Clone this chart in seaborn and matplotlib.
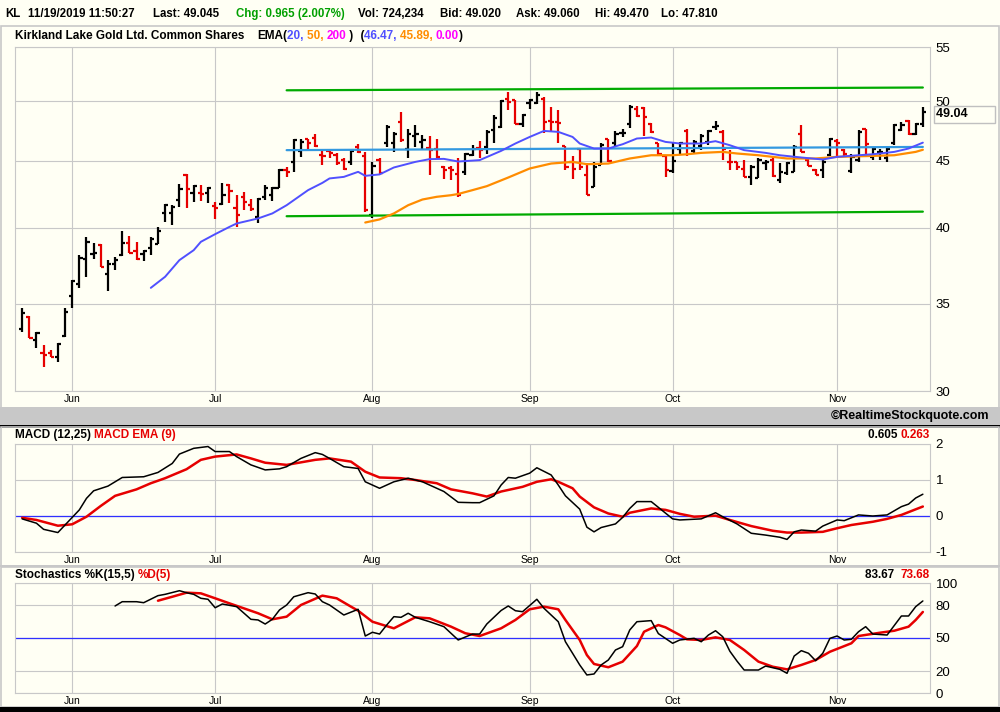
import matplotlib
matplotlib.use("Agg")
import numpy as np
import matplotlib.pyplot as plt
import seaborn as sns
from matplotlib.patches import Rectangle
from matplotlib.ticker import NullLocator

sns.set_theme(style="white", rc={"axes.edgecolor": "#C8C8C8", "text.color": "black",
                                 "xtick.color": "black", "ytick.color": "black"})
plt.rcParams['font.family'] = ['Liberation Sans', 'DejaVu Sans']

# ---- data (bar index 0 = May 22 2019, 126 = Nov 19 2019) ----
months = ['Jun', 'Jul', 'Aug', 'Sep', 'Oct', 'Nov']
month_idx = [7, 27, 49, 71, 91, 114]

opens = [33.45, 34.19, 32.82, 32.10, 32.10, 31.87, 33.06, 35.46, 36.20, 37.83,
         38.22, 38.80, 36.86, 37.52, 38.11, 38.91, 38.40, 38.20, 38.63, 38.86,
         41.02, 41.02, 42.04, 43.90, 42.49, 42.55, 42.49, 41.55, 41.70, 43.15,
         41.45, 42.23, 41.62, 40.77, 42.23, 42.36, 42.92, 44.32, 44.92, 45.80,
         46.73, 46.89, 45.50, 45.80, 45.45, 45.06, 44.92, 46.13, 45.40, 40.90,
         45.11, 46.40, 46.40, 48.20, 45.99, 47.05, 46.53, 46.00, 45.99, 44.48,
         44.43, 44.01, 44.14, 45.45, 46.00, 46.13, 47.50, 47.78, 50.22, 50.08,
         48.06, 49.85, 49.85, 50.22, 48.25, 48.20, 46.18, 44.92, 45.99, 43.88,
         42.99, 44.66, 46.73, 46.40, 47.25, 48.00, 49.35, 49.43, 48.06, 46.40,
         45.37, 44.22, 45.99, 47.40, 45.80, 46.20, 46.50, 47.75, 47.36, 44.95,
         44.92, 44.40, 43.75, 43.63, 44.80, 45.06, 43.50, 44.04, 44.14, 47.22,
         45.06, 44.32, 44.27, 45.45, 46.61, 45.91, 44.22, 45.06, 47.56, 45.32,
         45.70, 45.19, 46.40, 47.50, 48.28, 47.16, 48.06]
highs = [34.70, 34.25, 33.26, 32.54, 32.25, 32.63, 34.70, 36.47, 38.11, 39.37,
         38.96, 38.86, 37.78, 37.96, 39.76, 39.41, 39.02, 38.45, 39.37, 40.06,
         41.68, 41.62, 43.20, 44.01, 43.12, 43.12, 42.99, 41.87, 43.25, 43.20,
         42.36, 42.61, 42.11, 42.18, 43.12, 42.94, 44.40, 44.48, 46.73, 46.73,
         46.81, 47.22, 45.86, 45.99, 45.59, 45.19, 45.86, 46.34, 45.72, 44.92,
         45.19, 47.92, 47.36, 49.02, 47.64, 47.92, 47.08, 47.00, 46.73, 44.58,
         44.58, 45.19, 45.64, 46.26, 46.61, 47.50, 48.77, 50.14, 50.82, 50.14,
         48.91, 50.22, 50.82, 50.37, 49.49, 49.26, 46.18, 45.37, 45.99, 44.80,
         44.92, 46.40, 46.81, 47.44, 47.56, 49.64, 49.56, 49.49, 48.12, 46.45,
         45.45, 46.40, 46.53, 47.56, 46.70, 47.20, 47.50, 48.28, 47.50, 45.86,
         44.92, 45.06, 44.66, 45.19, 45.06, 45.32, 44.80, 44.92, 46.26, 47.92,
         45.19, 44.40, 45.06, 46.89, 46.73, 45.99, 45.53, 47.50, 47.64, 46.13,
         45.99, 46.13, 48.06, 48.20, 48.34, 48.12, 49.47]
lows = [33.30, 32.92, 32.35, 31.30, 31.83, 31.58, 33.02, 34.70, 35.98, 36.69,
        37.83, 37.30, 35.80, 37.12, 38.07, 38.23, 37.78, 37.73, 38.11, 38.86,
        40.38, 40.18, 41.50, 41.38, 41.87, 41.94, 41.75, 40.59, 41.62, 41.75,
        40.06, 41.26, 41.21, 40.35, 41.99, 41.94, 42.92, 43.75, 44.14, 45.27,
        45.99, 46.13, 44.66, 45.19, 44.66, 44.32, 44.66, 45.59, 41.13, 40.66,
        44.01, 46.13, 45.72, 46.53, 45.19, 46.13, 45.99, 43.88, 45.19, 43.55,
        43.50, 42.24, 43.88, 45.37, 45.19, 45.53, 46.40, 47.72, 49.20, 48.00,
        47.78, 49.35, 49.73, 47.28, 47.36, 46.40, 44.32, 43.55, 44.27, 42.36,
        42.94, 44.66, 44.92, 46.13, 46.94, 47.72, 48.63, 47.00, 47.28, 45.37,
        43.75, 44.06, 45.45, 45.40, 45.60, 45.90, 46.30, 47.50, 45.06, 44.27,
        44.27, 43.75, 43.12, 43.63, 44.32, 43.75, 43.25, 43.88, 44.14, 45.72,
        44.58, 43.88, 43.70, 45.37, 45.27, 45.32, 44.06, 44.92, 45.32, 45.06,
        45.06, 44.92, 46.26, 47.44, 47.08, 47.08, 47.81]
closes = [34.45, 32.92, 33.22, 31.95, 31.87, 32.58, 34.46, 36.43, 37.90, 39.02,
          38.25, 37.30, 37.52, 37.78, 38.91, 38.27, 37.85, 38.40, 39.19, 39.78,
          41.62, 41.50, 42.79, 42.79, 43.04, 42.45, 42.87, 41.45, 42.36, 42.69,
          40.90, 41.87, 41.31, 42.11, 42.87, 42.92, 44.32, 44.14, 46.67, 46.53,
          46.40, 46.18, 45.40, 45.59, 44.80, 44.40, 45.80, 45.72, 41.26, 44.58,
          44.06, 47.78, 47.22, 46.67, 47.22, 47.15, 46.67, 45.86, 45.32, 44.32,
          44.27, 42.36, 45.53, 45.99, 45.86, 47.36, 48.57, 50.02, 49.93, 48.06,
          48.83, 50.14, 50.51, 48.20, 48.15, 48.10, 44.48, 44.40, 44.48, 42.36,
          44.48, 46.26, 44.98, 47.22, 47.30, 49.49, 48.69, 48.63, 47.36, 45.53,
          44.27, 45.00, 46.45, 46.00, 46.50, 47.00, 47.40, 47.85, 45.99, 44.90,
          44.48, 43.75, 44.48, 45.06, 44.92, 43.80, 44.11, 44.80, 46.13, 45.72,
          44.58, 43.88, 44.92, 46.73, 46.40, 45.53, 45.32, 47.36, 46.34, 45.99,
          45.75, 45.99, 47.92, 47.92, 47.16, 48.06, 49.045]

ema20_idx = [18, 20, 22, 24, 25, 27, 29, 30, 33, 35, 37, 40, 42, 43, 45, 47, 48, 50,
             52, 55, 57, 59, 61, 64, 67, 69, 71, 73, 75, 77, 78, 80, 82, 84, 86, 88,
             90, 92, 95, 97, 99, 101, 104, 106, 109, 112, 114, 117, 119, 122, 124, 126]
ema20 = [35.98, 36.69, 37.78, 38.45, 39.02, 39.55, 40.06, 40.30, 40.66, 41.02, 41.62,
         42.74, 43.29, 43.63, 43.75, 44.14, 43.83, 43.94, 44.48, 44.92, 45.14, 45.16,
         44.95, 45.06, 45.80, 46.40, 46.94, 47.44, 47.36, 46.94, 46.40, 45.99, 45.99,
         46.34, 46.81, 46.89, 46.53, 46.40, 46.40, 46.59, 46.26, 45.86, 45.64, 45.45,
         45.27, 45.11, 45.32, 45.45, 45.53, 45.72, 45.99, 46.47]
ema50_idx = [48, 50, 52, 54, 56, 58, 60, 61, 63, 65, 68, 71, 74, 77, 79, 82, 85, 88,
             91, 93, 95, 98, 100, 103, 107, 111, 114, 118, 122, 125, 126]
ema50 = [40.37, 40.59, 41.02, 41.62, 42.04, 42.24, 42.36, 42.45, 42.74, 43.04, 43.70,
         44.40, 44.79, 44.92, 44.74, 44.79, 45.19, 45.45, 45.45, 45.53, 45.64, 45.72,
         45.59, 45.45, 45.19, 45.19, 45.32, 45.38, 45.45, 45.72, 45.89]

chan_idx = [37, 126]
chan_upper = [50.96, 51.21]
chan_mid = [45.86, 46.12]
chan_lower = [40.82, 41.15]

macd_idx = [0, 2, 3, 5, 6, 8, 9, 10, 12, 14, 17, 19, 21, 22, 24, 26, 27, 29, 30, 32,
            34, 36, 37, 39, 41, 42, 43, 45, 47, 48, 50, 52, 54, 56, 59, 61, 63, 64, 66,
            67, 68, 69, 71, 72, 74, 75, 76, 78, 79, 80, 81, 83, 84, 85, 86, 88, 89, 91,
            92, 95, 97, 98, 100, 102, 104, 106, 107, 108, 109, 111, 112, 114, 115, 117,
            119, 121, 123, 124, 125, 126]
macd = [-0.08, -0.20, -0.37, -0.46, -0.25, 0.17, 0.49, 0.70, 0.83, 1.07, 1.09, 1.21,
        1.46, 1.72, 1.88, 1.93, 1.79, 1.79, 1.65, 1.42, 1.28, 1.31, 1.37, 1.60, 1.76,
        1.71, 1.60, 1.37, 1.32, 0.95, 0.77, 0.95, 1.05, 0.95, 0.68, 0.38, 0.37, 0.37,
        0.56, 0.86, 1.07, 1.05, 1.19, 1.34, 1.14, 0.86, 0.56, 0.19, -0.31, -0.44, -0.32,
        -0.22, -0.04, 0.21, 0.40, 0.40, 0.24, -0.08, -0.11, -0.08, 0.09, -0.02, -0.22,
        -0.48, -0.53, -0.59, -0.65, -0.44, -0.39, -0.42, -0.28, -0.11, -0.13, 0.03,
        0.00, 0.03, 0.26, 0.33, 0.50, 0.605]
sig_idx = [0, 2, 5, 7, 9, 11, 13, 16, 18, 20, 23, 25, 27, 30, 32, 34, 37, 39, 41, 43,
           46, 48, 50, 53, 55, 58, 60, 63, 65, 67, 70, 72, 74, 75, 77, 78, 80, 82, 84,
           85, 88, 90, 92, 94, 97, 99, 102, 105, 107, 109, 112, 114, 116, 119, 121,
           123, 126]
sig = [-0.05, -0.11, -0.27, -0.23, -0.02, 0.28, 0.56, 0.74, 0.91, 1.05, 1.30, 1.56,
       1.65, 1.71, 1.60, 1.48, 1.42, 1.49, 1.56, 1.60, 1.51, 1.23, 1.07, 1.05, 1.00,
       0.91, 0.74, 0.63, 0.54, 0.68, 0.81, 0.95, 1.02, 0.95, 0.77, 0.54, 0.24, 0.07,
       -0.02, 0.09, 0.21, 0.17, 0.06, -0.02, 0.01, -0.11, -0.28, -0.41, -0.46, -0.46,
       -0.44, -0.34, -0.25, -0.16, -0.08, 0.03, 0.263]

k_idx = [13, 14, 16, 17, 19, 20, 22, 23, 24, 25, 26, 27, 28, 30, 32, 33, 34, 35, 36,
         37, 38, 40, 41, 42, 43, 45, 47, 48, 49, 50, 51, 52, 53, 54, 55, 57, 59, 61,
         63, 64, 65, 67, 68, 69, 70, 72, 73, 75, 76, 77, 78, 79, 80, 81, 82, 83, 84,
         85, 86, 88, 89, 91, 92, 94, 95, 96, 97, 98, 99, 100, 101, 103, 104, 106, 107,
         108, 109, 110, 111, 112, 113, 114, 115, 116, 117, 118, 119, 121, 123, 124,
         125, 126]
stoch_k = [79.1, 83.0, 83.0, 82.1, 88.5, 89.7, 93.0, 91.2, 89.7, 86.1, 85.2, 77.5,
           80.9, 78.5, 67.0, 66.4, 62.7, 67.0, 75.5, 80.0, 87.5, 91.2, 90.0, 83.0, 80.0,
           70.9, 76.1, 51.8, 55.2, 53.6, 61.8, 69.4, 68.8, 72.5, 68.8, 64.8, 60.3, 48.2,
           53.6, 53.6, 62.7, 75.0, 79.1, 74.8, 73.9, 85.2, 77.0, 64.8, 46.6, 36.1, 25.5,
           16.4, 17.3, 25.5, 30.0, 39.1, 42.1, 57.3, 64.8, 65.8, 54.0, 45.2, 48.2, 49.7,
           46.6, 52.7, 56.6, 51.2, 38.0, 29.0, 20.9, 20.9, 24.5, 21.5, 17.9, 33.6, 38.5,
           36.1, 29.4, 36.1, 49.7, 51.8, 48.2, 48.8, 55.7, 60.3, 53.6, 52.7, 70.0, 70.0,
           78.5, 83.67]
d_idx = [19, 21, 23, 25, 27, 29, 31, 33, 35, 37, 39, 42, 44, 46, 47, 49, 52, 55, 57,
         60, 62, 64, 67, 69, 71, 73, 75, 76, 78, 79, 80, 82, 84, 86, 87, 89, 90, 92,
         93, 95, 97, 99, 101, 103, 105, 107, 109, 111, 113, 116, 117, 120, 122, 124,
         125, 126]
stoch_d = [83.9, 87.5, 91.2, 90.6, 86.1, 81.5, 77.0, 72.5, 67.0, 69.4, 80.0, 88.5,
           86.1, 78.5, 74.8, 64.8, 58.8, 68.8, 67.9, 60.3, 54.3, 51.8, 58.8, 66.4, 76.1,
           78.5, 76.1, 66.4, 48.2, 34.5, 26.4, 23.4, 28.5, 42.7, 55.7, 61.8, 59.7, 52.7,
           48.8, 48.2, 50.6, 48.2, 39.1, 28.5, 23.9, 21.5, 25.5, 30.0, 37.5, 45.2, 51.8,
           54.8, 56.6, 60.3, 66.4, 73.68]

header = [(5, "KL", "black"), (28, "11/19/2019 11:50:27", "black"),
          (153, "Last: 49.045", "black"), (236, "Chg: 0.965 (2.007%)", "#00A000"),
          (358, "Vol: 724,234", "black"), (440, "Bid: 49.020", "black"),
          (516, "Ask: 49.060", "black"), (595, "Hi: 49.470", "black"),
          (661, "Lo: 47.810", "black")]

# ---- styling ----
BG = '#FFFFF4'
GRID = '#C8C8C8'
RED = '#E60000'
BLUE = '#5050FF'
ORANGE = '#FF8C00'
GREEN = '#00AA00'
MID = '#3399E0'
MAGENTA = '#FF00FF'
ZERO = '#3030FF'

W, H = 1000, 712
fig = plt.figure(figsize=(W / 100, H / 100), dpi=100, facecolor=BG)


def px_axes(x0, y0, x1, y1):
    return fig.add_axes([x0 / W, 1 - y1 / H, (x1 - x0) / W, (y1 - y0) / H])


deco = fig.add_axes([0, 0, 1, 1], zorder=-5)
deco.set_xlim(0, W)
deco.set_ylim(H, 0)
deco.axis('off')

ax_p = px_axes(15, 47, 930, 391)
ax_m = px_axes(15, 444, 930, 552)
ax_s = px_axes(15, 583, 930, 693)

for ax in (ax_p, ax_m, ax_s):
    ax.set_facecolor(BG)
    for sp in ax.spines.values():
        sp.set_color(GRID)
        sp.set_linewidth(0.8)
    ax.grid(True, color=GRID, lw=0.8)
    ax.set_axisbelow(True)
    ax.yaxis.tick_right()
    ax.tick_params(axis='y', length=0, pad=4, labelsize=9.5)
    ax.tick_params(axis='x', length=0, pad=2, labelsize=7.5)

# ---- price panel ----
idx = np.arange(len(closes))
o, h, l, c = map(np.array, (opens, highs, lows, closes))
bar_col = np.where(c >= o, 'black', RED)
ax_p.set_yscale('log')
ax_p.vlines(idx, l, h, colors=bar_col, lw=1.6)
ax_p.hlines(o, idx - 0.45, idx, colors=bar_col, lw=1.6)
ax_p.hlines(c, idx, idx + 0.45, colors=bar_col, lw=1.6)

sns.lineplot(x=chan_idx, y=chan_upper, ax=ax_p, color=GREEN, lw=1.6)
sns.lineplot(x=chan_idx, y=chan_lower, ax=ax_p, color=GREEN, lw=1.6)
sns.lineplot(x=chan_idx, y=chan_mid, ax=ax_p, color=MID, lw=1.6)
sns.lineplot(x=ema50_idx, y=ema50, ax=ax_p, color=ORANGE, lw=1.6)
sns.lineplot(x=ema20_idx, y=ema20, ax=ax_p, color=BLUE, lw=1.4)

ax_p.set_ylim(30, 55)
ax_p.set_yticks([30, 35, 40, 45, 50, 55])
ax_p.set_yticklabels(['30', '35', '40', '45', '50', '55'])
ax_p.yaxis.set_minor_locator(NullLocator())

last_lbl = f"{np.floor(closes[-1] * 100) / 100:.2f}"
ax_p.annotate(last_lbl + " " * 7, xy=(1, closes[-1]),
              xycoords=('axes fraction', 'data'), xytext=(6, -2),
              textcoords='offset pixels', va='center', ha='left', fontsize=9,
              weight='bold', annotation_clip=False,
              bbox=dict(boxstyle='square,pad=0.2', fc=BG, ec='#C0C0C0', lw=1))

# ---- MACD panel ----
ax_m.axhline(0, color=ZERO, lw=0.9)
sns.lineplot(x=sig_idx, y=sig, ax=ax_m, color=RED, lw=1.8)
sns.lineplot(x=macd_idx, y=macd, ax=ax_m, color='black', lw=1.1)
ax_m.set_ylim(-1, 2)
ax_m.set_yticks([-1, 0, 1, 2])
ax_m.set_yticklabels(['-1', '0', '1', '2'])

# ---- Stochastics panel ----
ax_s.axhline(50, color=ZERO, lw=0.9)
sns.lineplot(x=d_idx, y=stoch_d, ax=ax_s, color=RED, lw=1.8)
sns.lineplot(x=k_idx, y=stoch_k, ax=ax_s, color='black', lw=1.1)
ax_s.set_ylim(0, 100)
ax_s.set_yticks([0, 20, 50, 80, 100])
ax_s.set_yticklabels(['0', '20', '50', '80', '100'])

for ax in (ax_p, ax_m, ax_s):
    ax.set_xlim(-1, len(closes))
    ax.set_xticks(month_idx)
    ax.set_xticklabels(months)
    ax.set_xlabel('')
    ax.set_ylabel('')
    ax.yaxis.grid(True, color=GRID, lw=0.8)

# ---- frames and bands ----
deco.add_patch(Rectangle((0.5, 25.5), 998, 382, fill=False, ec=GRID, lw=1.2))
deco.add_patch(Rectangle((0, 407), W, 18, fc='#C8C8C8', ec='none'))
deco.add_patch(Rectangle((0, 425), W, 2.5, fc='black', ec='none'))
deco.add_patch(Rectangle((0.5, 427), 998, 139, fill=False, ec=GRID, lw=1.2))
deco.add_patch(Rectangle((0, 565), W, 2, fc=GRID, ec='none'))
deco.add_patch(Rectangle((0.5, 567), 998, 140, fill=False, ec=GRID, lw=1.2))
deco.add_patch(Rectangle((0, 707), W, 5, fc='black', ec='none'))

# ---- texts ----
for x, s, col in header:
    deco.text(x, 14, s, color=col, fontsize=8.3, weight='bold', va='center', ha='left')


def chain(x, y, parts, ha='left', size=8.5):
    t = deco.text(x, y, parts[0][0], color=parts[0][1], fontsize=size,
                  weight='bold', va='center', ha=ha)
    for s, col in parts[1:]:
        t = deco.annotate(s, xy=(1, 0) if ha == 'left' else (0, 0), xycoords=t,
                          va='bottom', ha=ha, color=col, fontsize=size, weight='bold')
    return t


deco.text(15, 36, "Kirkland Lake Gold Ltd. Common Shares", fontsize=8.5,
          weight='bold', va='center')
chain(257, 36, [("EMA(", 'black'), ("20, ", BLUE), ("50, ", ORANGE), ("200", MAGENTA),
                (" )", 'black'), ("  (", 'black'), (f"{ema20[-1]:.2f}, ", BLUE),
                (f"{ema50[-1]:.2f}, ", ORANGE), ("0.00", MAGENTA), (")", 'black')])

deco.text(989, 416, "\u00a9RealtimeStockquote.com", fontsize=9, weight='bold',
          va='center', ha='right')

chain(15, 435, [("MACD (12,25) ", 'black'), ("MACD EMA (9)", RED)])
chain(930, 435, [(f"{sig[-1]:.3f}", RED), (f"{macd[-1]:.3f} ", 'black')], ha='right')

chain(15, 575, [("Stochastics %K(15,5) ", 'black'), ("%D(5)", RED)])
chain(930, 575, [(f"{stoch_d[-1]:.2f}", RED), (f"{stoch_k[-1]:.2f}  ", 'black')],
      ha='right')

fig.savefig('out.png', dpi=100, facecolor=BG)
